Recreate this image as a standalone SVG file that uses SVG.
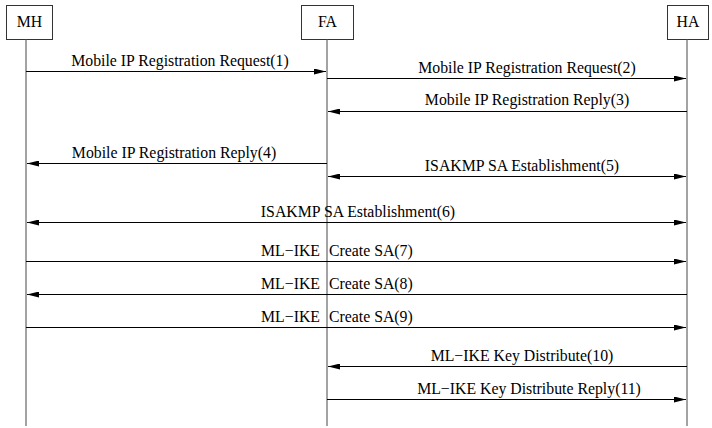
<svg xmlns="http://www.w3.org/2000/svg" width="712" height="428" viewBox="0 0 712 428">
<style>
.box{fill:#fff;stroke:#333;stroke-width:1}
.life{stroke:#666;stroke-width:1.2;fill:none}
.msg{stroke:#000;stroke-width:1;fill:none}
text{font-family:"Liberation Serif","Times New Roman",serif;font-size:15.8px;fill:#000}
.c{text-anchor:middle}
.e{text-anchor:end}
</style>
<defs>
<marker id="ah" viewBox="0 0 12 6" refX="12" refY="3" markerWidth="12" markerHeight="6" markerUnits="userSpaceOnUse" orient="auto-start-reverse">
<path d="M0,0 L12,3 L0,6 Z" fill="#000"/>
</marker>
</defs>
<g id="MH">
<rect class="box" x="6.5" y="5.5" width="46" height="34"/>
<text class="c" x="29.5" y="27">MH</text>
<line class="life" x1="26" y1="39.5" x2="26" y2="426"/>
</g>
<g id="FA">
<rect class="box" x="301.5" y="5.5" width="52" height="34"/>
<text class="c" x="327.5" y="27">FA</text>
<line class="life" x1="327" y1="39.5" x2="327" y2="426"/>
</g>
<g id="HA">
<rect class="box" x="667.5" y="5.5" width="41" height="34"/>
<text class="c" x="688" y="27">HA</text>
<line class="life" x1="687" y1="39.5" x2="687" y2="426"/>
</g>
<g id="connectors">
<line class="msg" x1="26" y1="71.5" x2="326" y2="71.5" marker-end="url(#ah)"/>
<text class="c" x="180" y="66">Mobile IP Registration Request(1)</text>
<line class="msg" x1="327" y1="78.5" x2="686" y2="78.5" marker-end="url(#ah)"/>
<text class="c" x="527" y="73">Mobile IP Registration Request(2)</text>
<line class="msg" x1="687" y1="111.5" x2="328" y2="111.5" marker-end="url(#ah)"/>
<text class="c" x="527" y="105">Mobile IP Registration Reply(3)</text>
<line class="msg" x1="327" y1="163.5" x2="27" y2="163.5" marker-end="url(#ah)"/>
<text class="c" x="174" y="158">Mobile IP Registration Reply(4)</text>
<line class="msg" x1="328" y1="176.5" x2="686" y2="176.5" marker-start="url(#ah)" marker-end="url(#ah)"/>
<text class="c" x="522" y="171">ISAKMP SA Establishment(5)</text>
<line class="msg" x1="27" y1="222.5" x2="686" y2="222.5" marker-start="url(#ah)" marker-end="url(#ah)"/>
<text class="c" x="358" y="217">ISAKMP SA Establishment(6)</text>
<line class="msg" x1="26" y1="261.5" x2="686" y2="261.5" marker-end="url(#ah)"/>
<text x="320" y="256"><tspan class="e">ML−IKE</tspan><tspan x="329" class="s">Create SA(7)</tspan></text>
<line class="msg" x1="687" y1="294.5" x2="27" y2="294.5" marker-end="url(#ah)"/>
<text x="320" y="289"><tspan class="e">ML−IKE</tspan><tspan x="329">Create SA(8)</tspan></text>
<line class="msg" x1="26" y1="327.5" x2="686" y2="327.5" marker-end="url(#ah)"/>
<text x="320" y="322"><tspan class="e">ML−IKE</tspan><tspan x="329">Create SA(9)</tspan></text>
<line class="msg" x1="687" y1="366.5" x2="328" y2="366.5" marker-end="url(#ah)"/>
<text class="c" x="522" y="361">ML−IKE Key Distribute(10)</text>
<line class="msg" x1="327" y1="399.5" x2="686" y2="399.5" marker-end="url(#ah)"/>
<text class="c" x="529" y="394">ML−IKE Key Distribute Reply(11)</text>
</g>
</svg>
